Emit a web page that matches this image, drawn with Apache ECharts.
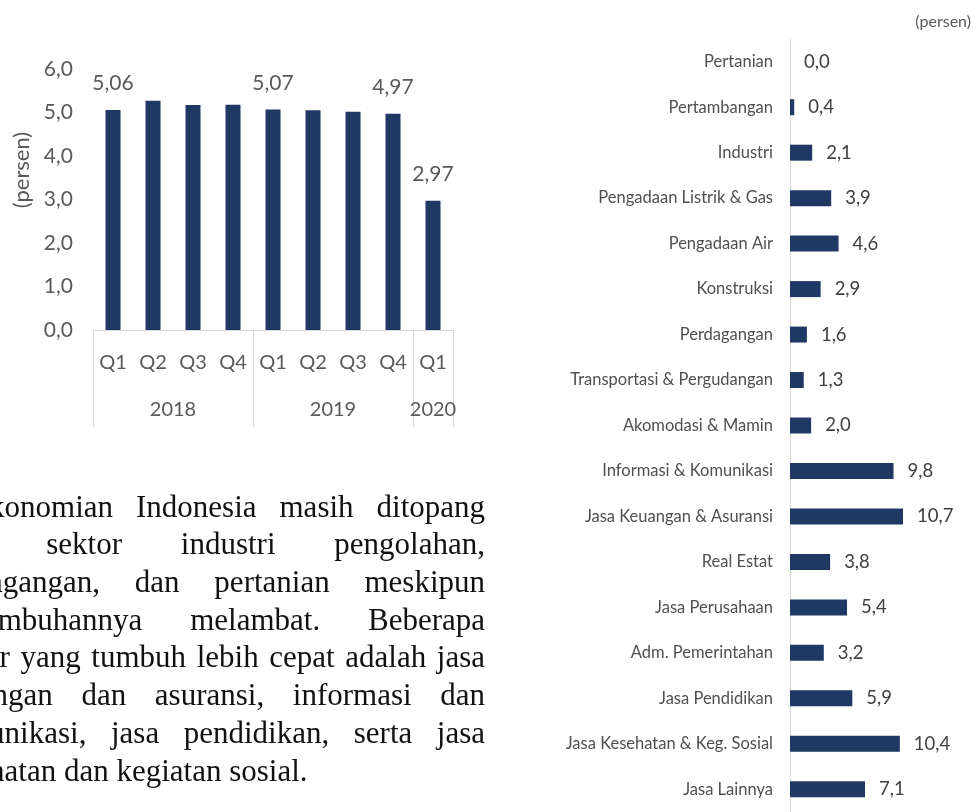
<!DOCTYPE html>
<html>
<head>
<meta charset="utf-8">
<script src="https://cdn.jsdelivr.net/npm/echarts@6/dist/echarts.min.js"></script>
<style>
  html, body { margin: 0; padding: 0; background: #fff; }
  #chart { width: 978px; height: 812px; }
</style>
</head>
<body>
<div id="chart"></div>
<script>
  // pertumbuhan ekonomi per triwulan (persen)
  var quarters = ["Q1", "Q2", "Q3", "Q4", "Q1", "Q2", "Q3", "Q4", "Q1"];
  var years = ["2018", "2019", "2020"];
  var quartersPerYear = [4, 4, 1];
  var growth = [5.06, 5.27, 5.17, 5.18, 5.07, 5.05, 5.02, 4.97, 2.97];
  var labelledBars = [0, 4, 7, 8];
  var yTicks = [0, 1, 2, 3, 4, 5, 6];

  // pertumbuhan per sektor (persen)
  var sectors = [
    "Pertanian", "Pertambangan", "Industri", "Pengadaan Listrik & Gas",
    "Pengadaan Air", "Konstruksi", "Perdagangan", "Transportasi & Pergudangan",
    "Akomodasi & Mamin", "Informasi & Komunikasi", "Jasa Keuangan & Asuransi",
    "Real Estat", "Jasa Perusahaan", "Adm. Pemerintahan", "Jasa Pendidikan",
    "Jasa Kesehatan & Keg. Sosial", "Jasa Lainnya"
  ];
  var sectorGrowth = [0.0, 0.4, 2.1, 3.9, 4.6, 2.9, 1.6, 1.3, 2.0, 9.8, 10.7, 3.8, 5.4, 3.2, 5.9, 10.4, 7.1];

  var paragraph = [
    "Perekonomian Indonesia masih ditopang",
    "oleh sektor industri pengolahan,",
    "perdagangan, dan pertanian meskipun",
    "pertumbuhannya melambat. Beberapa",
    "sektor yang tumbuh lebih cepat adalah jasa",
    "keuangan dan asuransi, informasi dan",
    "komunikasi, jasa pendidikan, serta jasa",
    "kesehatan dan kegiatan sosial."
  ];

  var barColor = "#1f3864";
  var textColor = "#595959";
  var lineColor = "#d9d9d9";
  var sansFont = "Lato, sans-serif";

  function fmt(v, d) {
    return v.toFixed(d).replace(".", ",");
  }

  // year group boundaries and centres on the quarter axis
  var groupStarts = [];
  var groupCentres = {};
  var acc = 0;
  quartersPerYear.forEach(function (n, i) {
    groupStarts.push(acc);
    groupCentres[acc + n / 2] = years[i];
    acc += n;
  });

  // justified paragraph, laid out word by word
  var paraFontSize = 31;
  var paraFont = paraFontSize + "px 'Liberation Serif', 'Times New Roman', serif";
  var paraLeft = -66, paraRight = 485, paraBase = 519, paraStep = 37.7;
  var ctx = document.createElement("canvas").getContext("2d");
  ctx.font = paraFont;
  var paraWords = [];
  paragraph.forEach(function (line, li) {
    var words = line.split(" ");
    var widths = words.map(function (w) { return ctx.measureText(w).width; });
    var total = widths.reduce(function (a, b) { return a + b; }, 0);
    var gap = ctx.measureText(" ").width;
    if (li < paragraph.length - 1 && words.length > 1) {
      gap = (paraRight - paraLeft - total) / (words.length - 1);
    }
    var x = paraLeft;
    words.forEach(function (w, wi) {
      paraWords.push({
        type: "text",
        x: x,
        y: paraBase + li * paraStep - 0.34 * paraFontSize,
        silent: true,
        style: {
          text: w, font: paraFont, fill: "#111",
          textAlign: "left", align: "left",
          textVerticalAlign: "middle", verticalAlign: "middle"
        }
      });
      x += widths[wi] + gap;
    });
  });

  var chart = echarts.init(document.getElementById("chart"));

  chart.setOption({
    animation: false,
    grid: [
      { left: 93, top: 69, width: 360, height: 261 },
      { left: 790, top: 39, width: 169, height: 778 }
    ],
    xAxis: [
      {
        type: "category", gridIndex: 0, position: "bottom", data: quarters,
        axisLine: { lineStyle: { color: lineColor } },
        axisTick: { show: false },
        axisLabel: { interval: 0, margin: 23, color: textColor, fontSize: 20, fontFamily: sansFont }
      },
      {
        type: "category", gridIndex: 0, position: "bottom", data: quarters,
        axisLine: { show: false },
        axisTick: {
          show: true, length: 97, lineStyle: { color: lineColor },
          interval: function (idx) { return groupStarts.indexOf(idx) >= 0; }
        },
        axisLabel: { show: false }
      },
      {
        type: "value", gridIndex: 0, position: "bottom",
        min: 0, max: quarters.length, interval: 0.5,
        axisLine: { show: false }, axisTick: { show: false }, splitLine: { show: false },
        axisLabel: {
          margin: 70, color: textColor, fontSize: 20, fontFamily: sansFont,
          showMinLabel: true, showMaxLabel: true,
          formatter: function (v) { return groupCentres[v] || ""; }
        }
      },
      {
        type: "value", gridIndex: 1, min: 0, max: 16, show: false
      }
    ],
    yAxis: [
      {
        type: "value", gridIndex: 0,
        min: yTicks[0], max: yTicks[yTicks.length - 1], interval: 1,
        axisLine: { show: false }, axisTick: { show: false }, splitLine: { show: false },
        axisLabel: {
          margin: 20, color: textColor, fontSize: 21, fontFamily: sansFont,
          formatter: function (v) { return fmt(v, 1); }
        }
      },
      {
        type: "category", gridIndex: 1, inverse: true, data: sectors,
        axisLine: { lineStyle: { color: lineColor } },
        axisTick: { show: false },
        axisLabel: { interval: 0, margin: 17, color: "#505050", fontSize: 16.5, fontFamily: sansFont }
      }
    ],
    series: [
      {
        type: "bar", xAxisIndex: 0, yAxisIndex: 0, barWidth: 15,
        itemStyle: { color: barColor },
        label: {
          show: false, position: "top", distance: 16,
          color: textColor, fontSize: 21, fontFamily: sansFont,
          formatter: function (p) { return fmt(p.value, 2); }
        },
        data: growth.map(function (v, i) {
          return labelledBars.indexOf(i) >= 0 ? { value: v, label: { show: true } } : v;
        })
      },
      {
        type: "bar", xAxisIndex: 3, yAxisIndex: 1, barWidth: 16,
        itemStyle: { color: barColor },
        label: {
          show: true, position: "right", distance: 14,
          color: "#404040", fontSize: 18.5, fontFamily: sansFont,
          formatter: function (p) { return fmt(p.value, 1); }
        },
        data: sectorGrowth
      }
    ],
    graphic: [
      {
        type: "text", x: 22, y: 170, rotation: Math.PI / 2, silent: true,
        style: {
          text: "(persen)", font: "22px " + sansFont, fill: textColor,
          textAlign: "center", align: "center", textVerticalAlign: "middle", verticalAlign: "middle"
        }
      },
      {
        type: "text", x: 971, y: 22, silent: true,
        style: {
          text: "(persen)", font: "16px " + sansFont, fill: textColor,
          textAlign: "right", align: "right", textVerticalAlign: "middle", verticalAlign: "middle"
        }
      }
    ].concat(paraWords)
  });
</script>
</body>
</html>
